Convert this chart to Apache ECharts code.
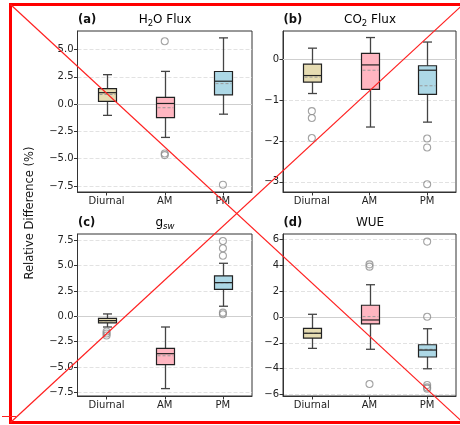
<!DOCTYPE html>
<html>
<head>
<meta charset="utf-8">
<script src="https://cdn.jsdelivr.net/npm/echarts@6/dist/echarts.min.js"></script>
<style>
html,body{margin:0;padding:0;background:#fff;}
#chart{width:460px;height:425px;}
</style>
</head>
<body>
<div id="chart"></div>
<script>
// ---------------- data ----------------
const categories = ['Diurnal', 'AM', 'PM'];

// [min whisker, Q1, median, Q3, max whisker]
const h2oBox  = [[-1.03, 0.25, 1.05, 1.42, 2.70], [-3.05, -1.24, 0.06, 0.61, 3.00], [-0.92, 0.85, 2.10, 2.99, 6.07]];
const h2oMean = [0.88, -0.33, 1.88];
const h2oOut  = [[], [5.76, -4.52, -4.67], [-7.38]];
const h2oTicks = [-7.5, -5.0, -2.5, 0.0, 2.5, 5.0];

const co2Box  = [[-0.84, -0.56, -0.40, -0.12, 0.27], [-1.66, -0.74, -0.14, 0.14, 0.53], [-1.54, -0.86, -0.27, -0.16, 0.42]];
const co2Mean = [-0.44, -0.27, -0.65];
const co2Out  = [[-1.27, -1.44, -1.93], [], [-1.94, -2.16, -3.06]];
const co2Ticks = [-3, -2, -1, 0];

const gswBox  = [[-1.06, -0.66, -0.43, -0.20, 0.23], [-7.14, -4.78, -3.69, -3.16, -1.06], [0.99, 2.66, 3.32, 3.98, 5.23]];
const gswMean = [-0.45, -3.90, 3.30];
const gswOut  = [[-1.50, -1.70, -1.90], [], [7.43, 6.71, 5.98, 0.36, 0.20]];
const gswTicks = [-7.5, -5.0, -2.5, 0.0, 2.5, 5.0, 7.5];

const wueBox  = [[-2.43, -1.63, -1.26, -0.88, 0.21], [-2.50, -0.54, -0.23, 0.91, 2.50], [-4.01, -3.10, -2.56, -2.15, -0.91]];
const wueMean = [-1.25, 0.03, -2.50];
const wueOut  = [[], [4.08, 3.90, -5.19], [5.84, 0.02, -5.27, -5.45, -5.55]];
const wueTicks = [-6, -4, -2, 0, 2, 4, 6];

// ---------------- layout / style ----------------
const FONT = 'DejaVu Sans';
const fills = ['#e6dcb2', '#ffb6c1', '#add8e6'];
const panels = [
  {box: h2oBox, mean: h2oMean, out: h2oOut, ticks: h2oTicks, dec: 1, min: -8.05, max: 6.7,  grid: {left: 77.5, top: 31, width: 174.5, height: 161}},
  {box: co2Box, mean: co2Mean, out: co2Out, ticks: co2Ticks, dec: 0, min: -3.25, max: 0.69, grid: {left: 283, top: 31, width: 173, height: 161}},
  {box: gswBox, mean: gswMean, out: gswOut, ticks: gswTicks, dec: 1, min: -7.87, max: 8.12, grid: {left: 77.5, top: 234, width: 174.5, height: 162}},
  {box: wueBox, mean: wueMean, out: wueOut, ticks: wueTicks, dec: 0, min: -6.12, max: 6.43, grid: {left: 283, top: 234, width: 173, height: 162}}
];

function fmt(v, dec) {
  return v.toFixed(dec).replace('-', '\u2212');
}

function renderBox(params, api) {
  const i = api.value(0);
  const pMin = api.coord([i, api.value(1)]);
  const pQ1 = api.coord([i, api.value(2)]);
  const pMed = api.coord([i, api.value(3)]);
  const pQ3 = api.coord([i, api.value(4)]);
  const pMax = api.coord([i, api.value(5)]);
  const pMean = api.coord([i, api.value(6)]);
  const cx = Math.round(pMed[0]) + 0.5;
  const hw = 9, cw = 4.5;
  const wh = {stroke: '#444', lineWidth: 1.3};
  const children = [];
  if (params.dataIndex === 0) {
    const cs = params.coordSys;
    const y0 = Math.round(api.coord([0, 0])[1]) + 0.5;
    children.push({type: 'line', shape: {x1: cs.x, y1: y0, x2: cs.x + cs.width, y2: y0},
      style: {stroke: '#cfcfcf', lineWidth: 1.2}});
  }
  children.push(
    {type: 'line', shape: {x1: cx, y1: pQ3[1], x2: cx, y2: pMax[1]}, style: wh},
    {type: 'line', shape: {x1: cx, y1: pQ1[1], x2: cx, y2: pMin[1]}, style: wh},
    {type: 'line', shape: {x1: cx - cw, y1: pMax[1], x2: cx + cw, y2: pMax[1]}, style: wh},
    {type: 'line', shape: {x1: cx - cw, y1: pMin[1], x2: cx + cw, y2: pMin[1]}, style: wh},
    {type: 'rect', shape: {x: cx - hw, y: pQ3[1], width: 2 * hw, height: pQ1[1] - pQ3[1]},
      style: {fill: fills[i], stroke: '#222', lineWidth: 1.2}},
    {type: 'line', shape: {x1: cx - hw + 1, y1: pMean[1], x2: cx + hw - 1, y2: pMean[1]},
      style: {stroke: '#999', lineWidth: 1, lineDash: [3, 2]}},
    {type: 'line', shape: {x1: cx - hw, y1: pMed[1], x2: cx + hw, y2: pMed[1]},
      style: {stroke: '#222', lineWidth: 1.2}}
  );
  return {type: 'group', children: children};
}

const grid = [], xAxis = [], yAxis = [], series = [];
panels.forEach((p, k) => {
  grid.push(Object.assign({show: true, borderColor: '#333', borderWidth: 1, backgroundColor: 'transparent'}, p.grid));
  xAxis.push({
    type: 'category', gridIndex: k, data: categories,
    axisLine: {show: true, onZero: false, lineStyle: {color: '#333', width: 1}},
    axisTick: {show: true, alignWithLabel: true, length: 3.5, lineStyle: {color: '#333'}},
    axisLabel: {fontFamily: FONT, fontSize: 10, color: '#222', margin: 4},
    splitLine: {show: false}
  });
  yAxis.push({
    type: 'value', gridIndex: k, min: p.min, max: p.max,
    axisLine: {show: true, onZero: false, lineStyle: {color: '#333', width: 1}},
    axisTick: {show: true, length: 3.5, lineStyle: {color: '#333'}, customValues: p.ticks},
    axisLabel: {fontFamily: FONT, fontSize: 10, color: '#222', margin: 4, customValues: p.ticks,
      formatter: (v) => fmt(v, p.dec)},
    splitLine: {show: true, lineStyle: {color: '#e2e2e2', type: [4, 2], width: 1}}
  });
  series.push({
    type: 'custom', xAxisIndex: k, yAxisIndex: k, z: 2,
    renderItem: renderBox,
    encode: {x: 0, y: [1, 2, 3, 4, 5, 6]},
    data: p.box.map((b, i) => [i].concat(b).concat([p.mean[i]]))
  });
  const pts = [];
  p.out.forEach((arr, i) => arr.forEach(v => pts.push([i, v])));
  series.push({
    type: 'scatter', xAxisIndex: k, yAxisIndex: k, z: 3,
    symbol: 'circle', symbolSize: 7,
    itemStyle: {color: 'rgba(0,0,0,0)', borderColor: '#8c8c8c', borderWidth: 1.1},
    data: pts
  });
});

const titleStyle = {fontFamily: FONT, fontSize: 12, fill: '#111'};
const rich = {
  n: {fontFamily: FONT, fontSize: 12, color: '#111', lineHeight: 16},
  s: {fontFamily: FONT, fontSize: 8.5, color: '#111', lineHeight: 16, verticalAlign: 'bottom'},
  si: {fontFamily: FONT, fontSize: 8.5, fontStyle: 'italic', color: '#111', lineHeight: 16, verticalAlign: 'bottom'}
};
const labelStyle = {fontFamily: FONT, fontSize: 11.5, fontWeight: 'bold', fill: '#111'};

const graphic = [
  {type: 'text', x: 78, y: 20, style: Object.assign({text: '(a)', verticalAlign: 'middle'}, labelStyle)},
  {type: 'text', x: 283.5, y: 20, style: Object.assign({text: '(b)', verticalAlign: 'middle'}, labelStyle)},
  {type: 'text', x: 78, y: 223, style: Object.assign({text: '(c)', verticalAlign: 'middle'}, labelStyle)},
  {type: 'text', x: 283.5, y: 223, style: Object.assign({text: '(d)', verticalAlign: 'middle'}, labelStyle)},
  {type: 'text', x: 165, y: 20, style: {text: '{n|H}{s|2}{n|O Flux}', rich: rich, align: 'center', verticalAlign: 'middle'}},
  {type: 'text', x: 370, y: 20, style: {text: '{n|CO}{s|2}{n| Flux}', rich: rich, align: 'center', verticalAlign: 'middle'}},
  {type: 'text', x: 165, y: 223, style: {text: '{n|g}{si|sw}', rich: rich, align: 'center', verticalAlign: 'middle'}},
  {type: 'text', x: 370, y: 223, style: Object.assign({text: 'WUE', align: 'center', verticalAlign: 'middle'}, titleStyle)},
  {type: 'text', x: 30, y: 213, rotation: Math.PI / 2,
    style: {text: 'Relative Difference (%)', fontFamily: FONT, fontSize: 11.5, fill: '#111', align: 'center', verticalAlign: 'middle'}},
  // red overlay marks present in the reference picture
  {type: 'rect', z: 100, shape: {x: 10.5, y: 4.5, width: 453, height: 418}, style: {fill: 'none', stroke: '#ff0000', lineWidth: 3}},
  {type: 'line', z: 100, shape: {x1: 10.5, y1: 4.5, x2: 463, y2: 422.5}, style: {stroke: '#ff2020', lineWidth: 1.2}},
  {type: 'line', z: 100, shape: {x1: 10.5, y1: 422.5, x2: 463, y2: 4.5}, style: {stroke: '#ff2020', lineWidth: 1.2}},
  {type: 'line', z: 100, shape: {x1: 2, y1: 416.5, x2: 16, y2: 416.5}, style: {stroke: '#ff2020', lineWidth: 1}}
];

const chart = echarts.init(document.getElementById('chart'), null, {renderer: 'canvas'});
chart.setOption({
  animation: false,
  backgroundColor: '#ffffff',
  grid, xAxis, yAxis, series, graphic
});
</script>
</body>
</html>
